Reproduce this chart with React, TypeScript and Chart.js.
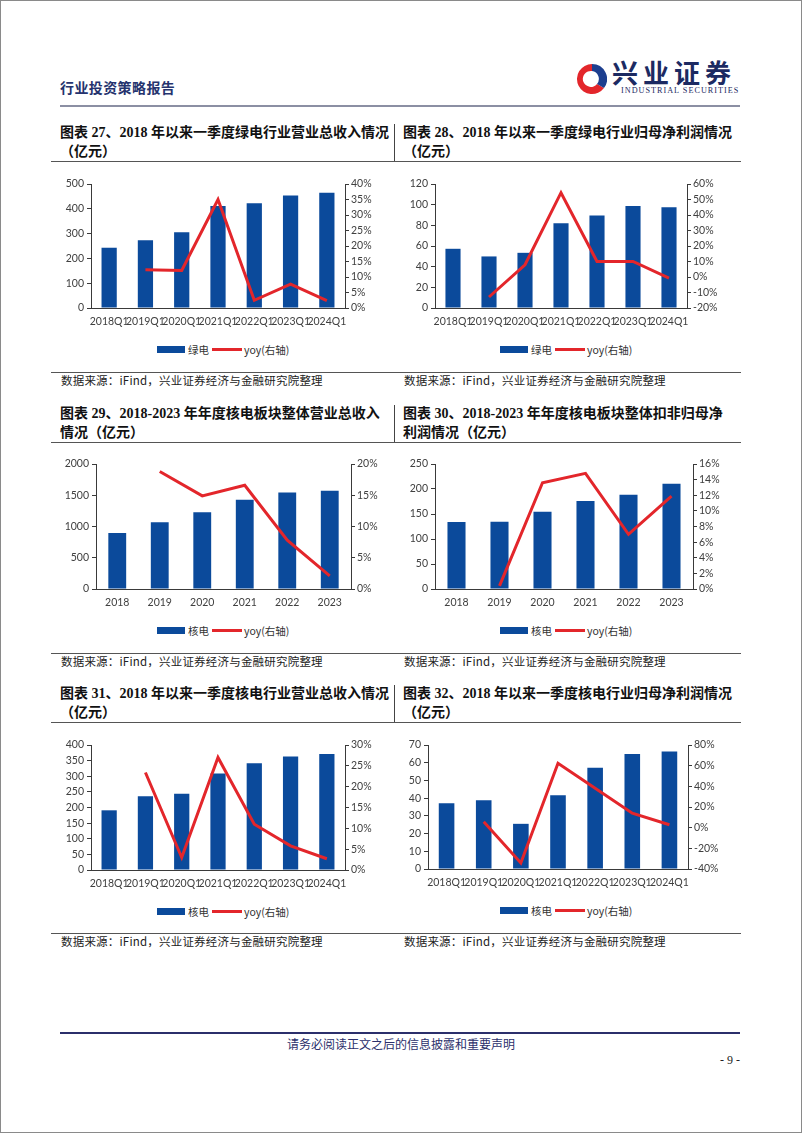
import React, { useEffect, useRef } from "react";
import { Chart, registerables } from "chart.js";
Chart.register(...registerables);

// ---------- data ----------
const quarters = ["2018Q1", "2019Q1", "2020Q1", "2021Q1", "2022Q1", "2023Q1", "2024Q1"];
const years = ["2018", "2019", "2020", "2021", "2022", "2023"];

const greenRevenue = [243, 273, 305, 411, 422, 454, 465];
const greenRevenueYoy = [null, 12.3, 12.1, 35.0, 2.5, 7.7, 2.4];

const greenProfit = [57.3, 49.9, 53.4, 82.0, 89.6, 98.6, 97.4];
const greenProfitYoy = [null, -12.9, 7.9, 54.4, 10.0, 10.0, -0.7];

const nuclearRevenue = [898, 1068, 1230, 1428, 1545, 1572];
const nuclearRevenueYoy = [null, 18.8, 14.9, 16.6, 7.8, 2.1];

const nuclearProfit = [134.2, 134.6, 154.3, 175.8, 188.5, 210.6];
const nuclearProfitYoy = [null, 0.4, 13.6, 14.8, 7.0, 11.9];

const nuclearQRevenue = [191, 236, 244, 309, 342, 363, 371];
const nuclearQRevenueYoy = [null, 23.4, 3.0, 27.0, 11.0, 5.8, 2.7];

const nuclearQProfit = [37.1, 38.8, 25.5, 41.6, 57.2, 64.9, 66.4];
const nuclearQProfitYoy = [null, 5.7, -34.2, 62.3, 38.2, 14.0, 2.8];

// axis ranges [min, max, step]
const axis27 = { left: [0, 500, 100], right: [0, 40, 5] };
const axis28 = { left: [0, 120, 20], right: [-20, 60, 10] };
const axis29 = { left: [0, 2000, 500], right: [0, 20, 5] };
const axis30 = { left: [0, 250, 50], right: [0, 16, 2] };
const axis31 = { left: [0, 400, 50], right: [0, 30, 5] };
const axis32 = { left: [0, 70, 10], right: [-40, 80, 20] };

const titles = [
  ["图表 27、2018 年以来一季度绿电行业营业总收入情况", "（亿元）"],
  ["图表 28、2018 年以来一季度绿电行业归母净利润情况", "（亿元）"],
  ["图表 29、2018-2023 年年度核电板块整体营业总收入", "情况（亿元）"],
  ["图表 30、2018-2023 年年度核电板块整体扣非归母净", "利润情况（亿元）"],
  ["图表 31、2018 年以来一季度核电行业营业总收入情况", "（亿元）"],
  ["图表 32、2018 年以来一季度核电行业归母净利润情况", "（亿元）"],
];
const sourceText = "数据来源：iFind，兴业证券经济与金融研究院整理";
const yoyLabel = "yoy(右轴)";

// ---------- styles ----------
const BAR = "#0b4a9b";
const RED = "#e3262b";
const AXIS = "#3a3a3a";
const TICK = "#404040";
const TICK_FONT = { family: "Lato, sans-serif", size: 10.5 };
const CJK = "'Noto Sans CJK SC', sans-serif";
const TITLE_FONT = "'Liberation Serif', 'Noto Sans CJK SC', serif";

type Geo = { cl: number; cr: number; pl: number; pr: number; pt: number; pb: number };

function ComboChart(props: {
  labels: string[];
  bars: number[];
  yoy: (number | null)[];
  barName: string;
  ax: { left: number[]; right: number[] };
  geo: Geo;
  legendLeft: number;
}) {
  const ref = useRef<HTMLCanvasElement | null>(null);
  const { geo } = props;
  const ct = geo.pt - 12;
  const cb = geo.pb + 26;
  const w = geo.cr - geo.cl;
  const h = cb - ct;
  useEffect(() => {
    if (!ref.current) return;
    let chart: any = null;
    try {
      chart = new Chart(ref.current, {
        type: "bar",
        data: {
          labels: props.labels,
          datasets: [
            {
              type: "line",
              label: yoyLabel,
              data: props.yoy as any,
              yAxisID: "y1",
              borderColor: RED,
              backgroundColor: RED,
              borderWidth: 3,
              pointRadius: 0,
              tension: 0,
              order: 0,
            } as any,
            {
              type: "bar",
              label: props.barName,
              data: props.bars,
              yAxisID: "y",
              backgroundColor: BAR,
              barPercentage: 0.42,
              categoryPercentage: 1,
              order: 1,
            } as any,
          ],
        },
        options: {
          responsive: false,
          maintainAspectRatio: false,
          animation: false,
          events: [],
          layout: { autoPadding: false, padding: { top: geo.pt - ct, left: 0, right: 0, bottom: 0 } },
          plugins: { legend: { display: false }, tooltip: { enabled: false } },
          scales: {
            x: {
              type: "category",
              grid: { display: false, drawTicks: false },
              border: { display: true, color: AXIS, width: 1 },
              ticks: { font: TICK_FONT, color: TICK, padding: 7, maxRotation: 0, minRotation: 0, autoSkip: false },
              afterFit: (s: any) => {
                s.height = cb - geo.pb;
              },
            },
            y: {
              position: "left",
              min: props.ax.left[0],
              max: props.ax.left[1],
              ticks: {
                stepSize: props.ax.left[2],
                autoSkip: false,
                font: TICK_FONT,
                color: TICK,
                padding: 3,
                callback: (v: any) => String(v),
              },
              grid: { drawOnChartArea: false, drawTicks: true, tickLength: 4, color: AXIS },
              border: { display: true, color: AXIS, width: 1 },
              afterFit: (s: any) => {
                s.width = geo.pl - geo.cl;
              },
            },
            y1: {
              position: "right",
              min: props.ax.right[0],
              max: props.ax.right[1],
              ticks: {
                stepSize: props.ax.right[2],
                autoSkip: false,
                font: TICK_FONT,
                color: TICK,
                padding: 2,
                callback: (v: any) => v + "%",
              },
              grid: { drawOnChartArea: false, drawTicks: true, tickLength: 4, color: AXIS },
              border: { display: true, color: AXIS, width: 1 },
              afterFit: (s: any) => {
                s.width = geo.cr - geo.pr;
              },
            },
          },
        } as any,
      });
    } catch (e) {
      console.error(e);
    }
    return () => {
      if (chart) chart.destroy();
    };
  }, []);
  const legendY = geo.pb + 41;
  return (
    <>
      <canvas
        ref={ref}
        width={w}
        height={h}
        style={{ position: "absolute", left: geo.cl, top: ct, width: w, height: h }}
      />
      <div
        style={{
          position: "absolute",
          left: props.legendLeft,
          top: legendY - 8,
          height: 16,
          display: "flex",
          alignItems: "center",
          fontFamily: CJK,
          fontSize: 10.5,
          color: "#333",
          whiteSpace: "nowrap",
        }}
      >
        <span style={{ display: "inline-block", width: 28, height: 7, background: BAR, marginRight: 3 }} />
        <span style={{ marginRight: 3 }}>{props.barName}</span>
        <span style={{ display: "inline-block", width: 30, height: 3, background: RED, marginRight: 2 }} />
        <span>{yoyLabel}</span>
      </div>
    </>
  );
}

function Abs(props: { style: React.CSSProperties; children?: React.ReactNode }) {
  return <div style={{ position: "absolute", whiteSpace: "nowrap", ...props.style }}>{props.children}</div>;
}

const rowTops = [124, 405, 685];
const LX = 60;
const RX = 403;
const TABLE_L = 51;
const TABLE_R = 741;
const DIV_X = 394;

export default function App() {
  const rows = rowTops.map((top, i) => {
    const border = top + 37;
    const srcLine = border + 211;
    return (
      <React.Fragment key={i}>
        <div style={{ position: "absolute", left: DIV_X, top: top, width: 1, height: 37, background: "#444" }} />
        <div style={{ position: "absolute", left: TABLE_L, top: border, width: TABLE_R - TABLE_L, height: 1, background: "#555" }} />
        <div style={{ position: "absolute", left: TABLE_L, top: srcLine, width: TABLE_R - TABLE_L, height: 1, background: "#555" }} />
        {[0, 1].map((c) => {
          const t = titles[i * 2 + c];
          const x = c === 0 ? LX : RX;
          return (
            <React.Fragment key={c}>
              <Abs style={{ left: x, top: top - 1, height: 20, lineHeight: "20px", fontFamily: TITLE_FONT, fontWeight: 700, fontSize: 14, color: "#111" }}>
                {t[0]}
              </Abs>
              <Abs style={{ left: x, top: top + 18, height: 20, lineHeight: "20px", fontFamily: TITLE_FONT, fontWeight: 700, fontSize: 14, color: "#111" }}>
                {t[1]}
              </Abs>
              <Abs style={{ left: x + 1, top: srcLine, height: 16, lineHeight: "16px", fontFamily: CJK, fontSize: 11.5, letterSpacing: 0.2, color: "#222" }}>
                {sourceText}
              </Abs>
            </React.Fragment>
          );
        })}
      </React.Fragment>
    );
  });

  return (
    <div style={{ position: "absolute", left: 0, top: 0, width: 802, height: 1133, background: "#fff", overflow: "hidden" }}>
      <div style={{ position: "absolute", left: 0, top: 0, width: 802, height: 1133, boxSizing: "border-box", border: "1px solid #8a8a8a" }} />
      <Abs style={{ left: 60, top: 78, height: 18, lineHeight: "18px", fontFamily: CJK, fontWeight: 700, fontSize: 14, letterSpacing: 0.4, color: "#25336e" }}>
        行业投资策略报告
      </Abs>
      <svg style={{ position: "absolute", left: 577, top: 62 }} width={30} height={34} viewBox="0 0 30 34">
        <path d="M15 2 A15 15 0 1 0 27 26 L20 22 A8 8 0 1 1 15 9 Z" fill="#e3262b" />
        <path d="M15 9 A8 8 0 0 1 20 22 L27 26 A15 15 0 0 0 15 2 Z" fill="#1d3f8f" />
        <circle cx="14" cy="17" r="4.5" fill="#fff" />
      </svg>
      <Abs style={{ left: 612, top: 57, height: 30, lineHeight: "30px", fontFamily: CJK, fontWeight: 700, fontSize: 26, letterSpacing: 5, color: "#1c2a62" }}>
        兴业证券
      </Abs>
      <Abs style={{ left: 621, top: 86, height: 10, lineHeight: "10px", fontFamily: "'Liberation Serif', serif", fontSize: 8.2, letterSpacing: 1, color: "#1c2a62" }}>
        INDUSTRIAL SECURITIES
      </Abs>
      <div style={{ position: "absolute", left: 60, top: 105, width: 680, height: 2, background: "#8b8fa3" }} />

      {rows}

      <ComboChart labels={quarters} bars={greenRevenue} yoy={greenRevenueYoy} barName="绿电" ax={axis27}
        geo={{ cl: 52, cr: 393, pl: 91, pr: 345, pt: 184, pb: 308 }} legendLeft={157} />
      <ComboChart labels={quarters} bars={greenProfit} yoy={greenProfitYoy} barName="绿电" ax={axis28}
        geo={{ cl: 395, cr: 742, pl: 435, pr: 687, pt: 184, pb: 308 }} legendLeft={500} />
      <ComboChart labels={years} bars={nuclearRevenue} yoy={nuclearRevenueYoy} barName="核电" ax={axis29}
        geo={{ cl: 52, cr: 393, pl: 96, pr: 351, pt: 464, pb: 589 }} legendLeft={157} />
      <ComboChart labels={years} bars={nuclearProfit} yoy={nuclearProfitYoy} barName="核电" ax={axis30}
        geo={{ cl: 395, cr: 742, pl: 435, pr: 693, pt: 464, pb: 589 }} legendLeft={500} />
      <ComboChart labels={quarters} bars={nuclearQRevenue} yoy={nuclearQRevenueYoy} barName="核电" ax={axis31}
        geo={{ cl: 52, cr: 393, pl: 91, pr: 345, pt: 745, pb: 870 }} legendLeft={157} />
      <ComboChart labels={quarters} bars={nuclearQProfit} yoy={nuclearQProfitYoy} barName="核电" ax={axis32}
        geo={{ cl: 395, cr: 742, pl: 428, pr: 688, pt: 745, pb: 869 }} legendLeft={500} />

      <div style={{ position: "absolute", left: 60, top: 1032, width: 680, height: 2, background: "#2b2f6b" }} />
      <Abs style={{ left: 0, width: 802, top: 1036, height: 16, lineHeight: "16px", textAlign: "center", fontFamily: CJK, fontSize: 12, color: "#2b2f6b" }}>
        请务必阅读正文之后的信息披露和重要声明
      </Abs>
      <Abs style={{ left: 700, width: 40, top: 1052, height: 16, lineHeight: "16px", textAlign: "right", fontFamily: "'Liberation Serif', serif", fontSize: 12, color: "#222" }}>
        - 9 -
      </Abs>
    </div>
  );
}
